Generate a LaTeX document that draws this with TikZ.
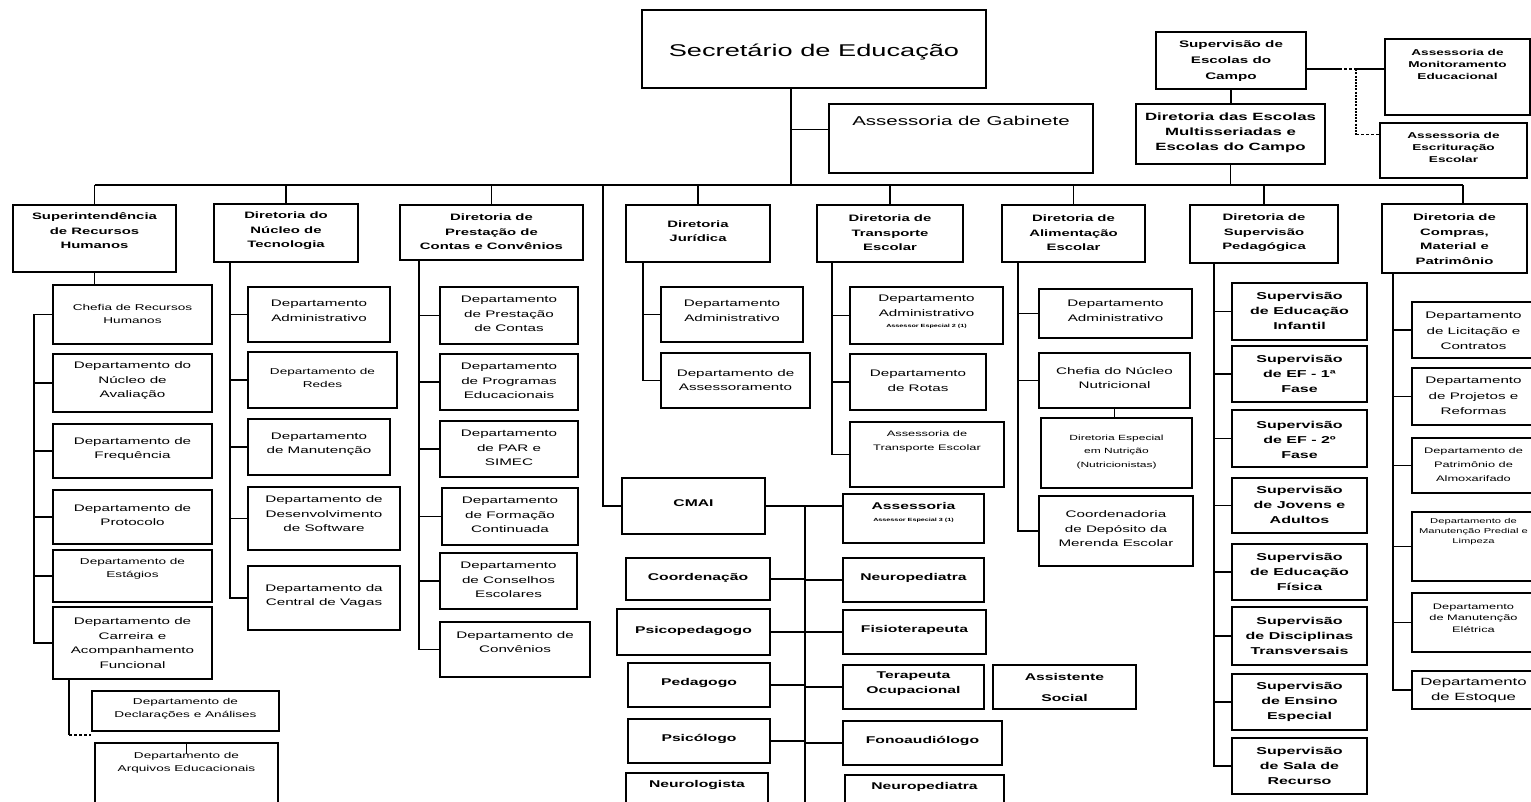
\documentclass[tikz,border=0pt]{standalone}
\usepackage{fontspec}
\setmainfont{Liberation Sans}[FakeStretch=1.6]
\usetikzlibrary{fit,calc}
\newcommand\bx[8][]{%
  \node[box,fit={(#3,#4)(#5,#6)}] (#2) {};
  \node[txt,#1] (#2-t) at ({(#3+#5)/2},#7) {#8};
}
\newcommand\tinyspec[1]{{\fontsize{4.5}{5}\selectfont\bfseries #1}}
\tikzset{
  box/.style={draw,line width=1.5pt,inner sep=0pt,rectangle},
  txt/.style={align=center,inner sep=0pt,font=\fontsize{9.5}{14.5}\selectfont},
  deptsm/.style={font=\fontsize{8.5}{12.5}\selectfont},
  deptxs/.style={font=\fontsize{8}{14}\selectfont},
  dirb/.style={font=\bfseries\fontsize{9.3}{14.5}\selectfont},
  cmb/.style={font=\bfseries\fontsize{9.8}{15}\selectfont},
  supb/.style={font=\bfseries\fontsize{10}{15}\selectfont},
  dashln/.style={dash pattern=on 3pt off 2pt},
  conn/.style={line width=1.6pt},
}
\begin{document}
\begin{tikzpicture}[x=1pt,y=-1pt,line width=1.6pt]
\useasboundingbox[fill=white] (0,0) rectangle (1531,801);
% ---------- top ----------
\bx[font=\fontsize{17}{20}\selectfont]{sec}{642}{10}{986}{88}{52}{Secretário de Educação}
\bx[font=\fontsize{12.8}{15}\selectfont]{gab}{829}{104}{1093}{173}{121}{Assessoria de Gabinete}
\bx[font=\bfseries\fontsize{9.5}{16}\selectfont]{sup}{1156}{32}{1306}{89}{61}{Supervisão de\\Escolas do\\Campo}
\bx[font=\bfseries\fontsize{10.5}{15}\selectfont]{dir}{1136}{104}{1325}{164}{133}{Diretoria das Escolas\\Multisseriadas e\\Escolas do Campo}
\bx[font=\bfseries\fontsize{8.5}{12}\selectfont]{mon}{1385}{39}{1530}{115}{64}{Assessoria de\\Monitoramento\\Educacional}
\bx[font=\bfseries\fontsize{8.5}{12}\selectfont]{esc}{1380}{123}{1527}{178}{147}{Assessoria de\\Escrituração\\Escolar}
% ---------- directorates ----------
\bx[dirb]{srh}{13}{205}{176}{272}{231}{Superintendência\\de Recursos\\Humanos}
\bx[dirb]{dnt}{214}{204}{358}{262}{231}{Diretoria do\\Núcleo de\\Tecnologia}
\bx[dirb]{dpc}{400}{205}{583}{260}{232}{Diretoria de\\Prestação de\\Contas e Convênios}
\bx[dirb]{jur}{626}{205}{770}{262}{231}{Diretoria\\Jurídica}
\bx[dirb]{tra}{817}{205}{963}{262}{233}{Diretoria de\\Transporte\\Escolar}
\bx[dirb]{ali}{1002}{205}{1145}{262}{233}{Diretoria de\\Alimentação\\Escolar}
\bx[dirb]{sp}{1190}{205}{1338}{263}{233}{Diretoria de\\Supervisão\\Pedagógica}
\bx[dirb]{cmp}{1382}{204}{1527}{273}{239}{Diretoria de\\Compras,\\Material e\\Patrimônio}
% ---------- SRH ----------
\bx[deptsm]{r1}{53}{285}{212}{344}{314}{Chefia de Recursos\\Humanos}
\bx{r2}{53}{354}{212}{412}{381}{Departamento do\\Núcleo de\\Avaliação}
\bx{r3}{53}{424}{212}{478}{449}{Departamento de\\Frequência}
\bx{r4}{53}{490}{212}{544}{515}{Departamento de\\Protocolo}
\bx[deptsm]{r5}{53}{550}{212}{602}{569}{Departamento de\\Estágios}
\bx{r6}{53}{607}{212}{679}{643}{Departamento de\\Carreira e\\Acompanhamento\\Funcional}
\bx[deptsm]{dec}{92}{691}{279}{731}{709}{Departamento de\\Declarações e Análises}
\bx[deptsm]{arq}{95}{743}{278}{810}{763}{Departamento de\\Arquivos Educacionais}
% ---------- DNT ----------
\bx{n1}{248}{287}{390}{342}{311}{Departamento\\Administrativo}
\bx[deptsm]{n2}{248}{352}{397}{408}{378}{Departamento de\\Redes}
\bx{n3}{248}{419}{390}{475}{444}{Departamento\\de Manutenção}
\bx{n4}{248}{487}{400}{550}{514}{Departamento de\\Desenvolvimento\\de Software}
\bx{n5}{248}{566}{400}{630}{596}{Departamento da\\Central de Vagas}
% ---------- DPCC ----------
\bx{p1}{440}{287}{578}{344}{314}{Departamento\\de Prestação\\de Contas}
\bx{p2}{440}{354}{578}{410}{381}{Departamento\\de Programas\\Educacionais}
\bx{p3}{440}{421}{578}{477}{448}{Departamento\\de PAR e\\SIMEC}
\bx{p4}{442}{488}{578}{545}{515}{Departamento\\de Formação\\Continuada}
\bx{p5}{440}{553}{577}{609}{580}{Departamento\\de Conselhos\\Escolares}
\bx{p6}{440}{622}{590}{677}{642}{Departamento de\\Convênios}
% ---------- Juridica ----------
\bx{j1}{661}{287}{803}{342}{311}{Departamento\\Administrativo}
\bx{j2}{661}{353}{810}{408}{380}{Departamento de\\Assessoramento}
% ---------- CMAI ----------
\bx[cmb]{cmai}{622}{478}{765}{534}{503}{CMAI}
\bx[cmb]{l1}{626}{558}{770}{600}{578}{Coordenação}
\bx[cmb]{l2}{617}{609}{770}{655}{631}{Psicopedagogo}
\bx[cmb]{l3}{628}{663}{770}{707}{683}{Pedagogo}
\bx[cmb]{l4}{628}{719}{770}{763}{739}{Psicólogo}
\bx[cmb]{l5}{626}{773}{768}{810}{785}{Neurologista}
\bx[cmb]{rr1}{843}{494}{984}{543}{512}{Assessoria\\[-3pt]\tinyspec{Assessor Especial 3 (1)}}
\bx[cmb]{rr2}{843}{558}{984}{602}{578}{Neuropediatra}
\bx[cmb]{rr3}{843}{610}{986}{654}{630}{Fisioterapeuta}
\bx[cmb]{rr4}{843}{665}{984}{709}{684}{Terapeuta\\Ocupacional}
\bx[cmb]{ass}{993}{665}{1136}{709}{687}{Assistente\\[6pt]Social}
\bx[cmb]{rr5}{843}{721}{1002}{765}{741}{Fonoaudiólogo}
\bx[cmb]{rr6}{845}{775}{1004}{810}{787}{Neuropediatra}
% ---------- Transporte ----------
\bx{t1}{850}{287}{1003}{344}{312}{Departamento\\Administrativo\\[-3pt]\tinyspec{Assessor Especial 2 (1)}}
\bx{t2}{850}{354}{986}{410}{381}{Departamento\\de Rotas}
\bx[deptxs]{t3}{850}{422}{1004}{487}{441}{Assessoria de\\Transporte Escolar}
% ---------- Alimentacao ----------
\bx{a1}{1039}{289}{1192}{338}{311}{Departamento\\Administrativo}
\bx{a2}{1039}{353}{1190}{408}{378}{Chefia do Núcleo\\Nutricional}
\bx[font=\fontsize{7.5}{13.5}\selectfont]{a3}{1041}{418}{1192}{488}{452}{Diretoria Especial\\em Nutrição\\(Nutricionistas)}
\bx{a4}{1039}{496}{1193}{566}{529}{Coordenadoria\\de Depósito da\\Merenda Escolar}
% ---------- Supervisao Pedagogica ----------
\bx[supb]{s1}{1232}{283}{1367}{340}{311}{Supervisão\\de Educação\\Infantil}
\bx[supb]{s2}{1232}{346}{1367}{402}{374}{Supervisão\\de EF - 1ª\\Fase}
\bx[supb]{s3}{1232}{410}{1367}{467}{440}{Supervisão\\de EF - 2º\\Fase}
\bx[supb]{s4}{1232}{478}{1367}{533}{505}{Supervisão\\de Jovens e\\Adultos}
\bx[supb]{s5}{1232}{544}{1367}{600}{572}{Supervisão\\de Educação\\Física}
\bx[supb]{s6}{1232}{607}{1367}{665}{636}{Supervisão\\de Disciplinas\\Transversais}
\bx[supb]{s7}{1232}{674}{1367}{730}{702}{Supervisão\\de Ensino\\Especial}
\bx[supb]{s8}{1232}{738}{1367}{794}{766}{Supervisão\\de Sala de\\Recurso}
% ---------- Compras ----------
\bx[font=\fontsize{9.5}{15.5}\selectfont]{c1}{1412}{302}{1535}{358}{331}{Departamento\\de Licitação e\\Contratos}
\bx[font=\fontsize{9.5}{15.5}\selectfont]{c2}{1412}{368}{1535}{425}{396}{Departamento\\de Projetos e\\Reformas}
\bx[font=\fontsize{8}{14}\selectfont]{c3}{1412}{438}{1535}{493}{465}{Departamento de\\Patrimônio de\\Almoxarifado}
\bx[font=\fontsize{7}{10}\selectfont]{c4}{1412}{512}{1535}{581}{532}{Departamento de\\Manutenção Predial e\\Limpeza}
\bx[font=\fontsize{8}{11.5}\selectfont]{c5}{1412}{593}{1535}{652}{618}{Departamento\\de Manutenção\\Elétrica}
\bx[font=\fontsize{10.5}{15}\selectfont]{c6}{1412}{671}{1535}{709}{690}{Departamento\\de Estoque}
% ---------- coordinates ----------
\coordinate (bus) at (0,185);
\coordinate (secS) at (791,0);
\coordinate (cmpT) at (1463,0);
\coordinate (srhS) at (34,0);
\coordinate (dntS) at (230,0);
\coordinate (dpcS) at (419,0);
\coordinate (jurS) at (643,0);
\coordinate (cmaiS) at (603,0);
\coordinate (cmR) at (805,0);
\coordinate (cmB) at (805,805);
\coordinate (traS) at (832,0);
\coordinate (aliS) at (1018,0);
\coordinate (spS) at (1214,0);
\coordinate (cmpS) at (1393,0);
\coordinate (mv) at (1356,0);
\coordinate (cx) at (69,735);
\coordinate (gab1) at ($(gab.north west)!0.37!(gab.south west)$);
\coordinate (s1p) at ($(sup.north east)!0.65!(sup.south east)$);
\coordinate (m1) at ($(mon.north west)!0.4!(mon.south west)$);
\coordinate (e1) at ($(esc.north west)!0.22!(esc.south west)$);
\begin{scope}[conn]
% ---------- connectors: top ----------
\draw (sec.south -| secS) -- (secS |- bus);
\draw (gab1) -- (gab1 -| secS);
\draw (srh.north |- bus) -- (cmpT |- bus);
\foreach \d in {srh,dnt,dpc,jur,tra,ali,sp} \draw[conn] (\d.north) -- (\d.north |- bus);
\draw (cmp.north -| cmpT) -- (cmpT |- bus);
\draw (sup.south) -- (sup.south |- dir.north);
\draw (dir.south) -- (dir.south |- bus);
\draw (s1p) -- ++(32,0) coordinate (s2p);
\draw[dashln] (s2p) -- (s1p -| mv);
\draw (m1 -| mv) -- (m1);
\draw[dash pattern=on 2pt off 1.2pt] (s1p -| mv) -- (e1 -| mv);
\draw[dashln] (e1 -| mv) -- (e1);
% ---------- SRH ----------
\draw (srh.south) -- (srh.south |- r1.north);
\draw (r1.west) -| (srhS |- r6.west) -- (r6.west);
\foreach \n in {r2,r3,r4,r5} \draw[conn] (\n.west) -- (\n.west -| srhS);
\draw (r6.south -| cx) -- (cx);
\draw[dashln] (cx) -- (cx -| dec.west);
\draw (arq.north) -- ++(0,12);
% ---------- DNT ----------
\draw (dnt.south -| dntS) |- (n5.west);
\foreach \n in {n1,n2,n3,n4} \draw[conn] (\n.west) -- (\n.west -| dntS);
% ---------- DPCC ----------
\draw (dpc.south -| dpcS) |- (p6.west);
\foreach \n in {p1,p2,p3,p4,p5} \draw[conn] (\n.west) -- (\n.west -| dpcS);
% ---------- Juridica ----------
\draw (jur.south -| jurS) |- (j2.west);
\draw (j1.west) -- (j1.west -| jurS);
% ---------- CMAI ----------
\draw (cmai.west) -| (cmaiS |- bus);
\draw (cmai.east) -- (cmai.east -| rr1.west);
\draw (cmai.east -| cmR) -- (cmB);
\foreach \n in {l1,l2,l3,l4} \draw[conn] (\n.east) -- (\n.east -| cmR);
\foreach \n in {rr2,rr3,rr4,rr5} \draw[conn] (\n.west) -- (\n.west -| cmR);
% ---------- Transporte ----------
\draw (tra.south -| traS) |- (t3.west);
\foreach \n in {t1,t2} \draw[conn] (\n.west) -- (\n.west -| traS);
% ---------- Alimentacao ----------
\draw (ali.south -| aliS) |- (a4.west);
\foreach \n in {a1,a2} \draw[conn] (\n.west) -- (\n.west -| aliS);
\draw (a2.south) -- (a2.south |- a3.north);
% ---------- Supervisao ----------
\draw (sp.south -| spS) |- (s8.west);
\foreach \n in {s1,s2,s3,s4,s5,s6,s7} \draw[conn] (\n.west) -- (\n.west -| spS);
% ---------- Compras ----------
\draw (cmp.south -| cmpS) |- (c6.west);
\foreach \n in {c1,c2,c3,c4,c5} \draw[conn] (\n.west) -- (\n.west -| cmpS);
\end{scope}
\end{tikzpicture}
\end{document}
